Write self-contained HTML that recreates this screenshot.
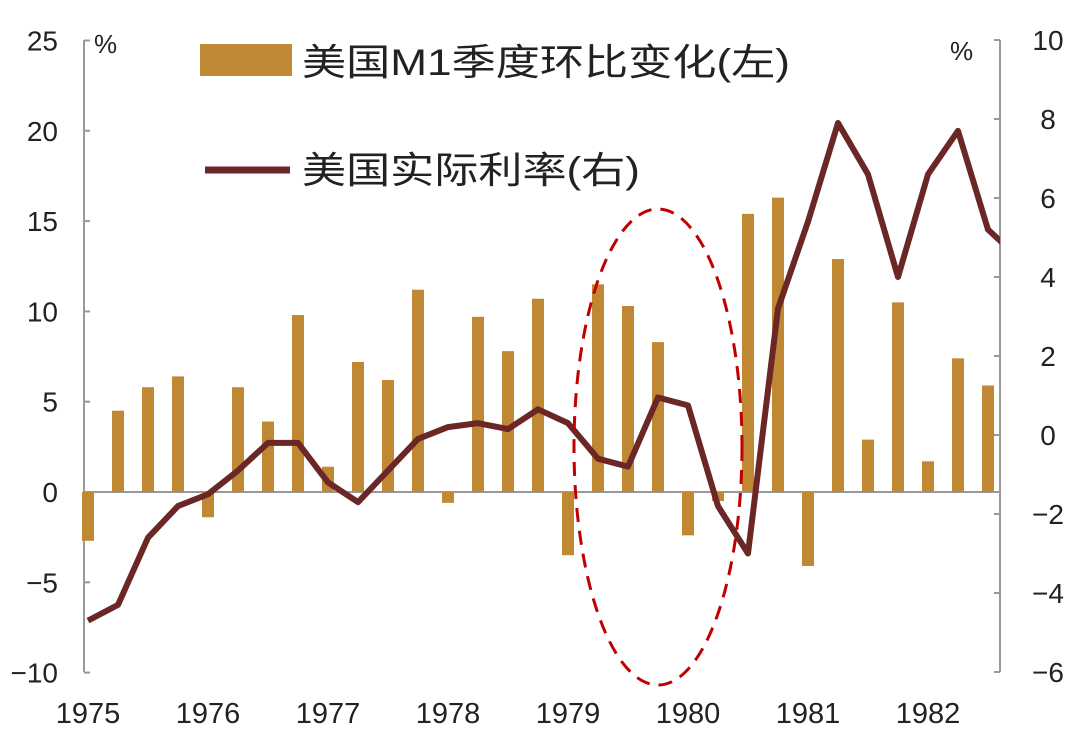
<!DOCTYPE html>
<html><head><meta charset="utf-8"><style>
body{margin:0;background:#fff;}
svg text{font-family:"Liberation Sans","Noto Sans CJK SC",sans-serif;fill:#222;}
</style></head><body>
<svg id="chart" width="1080" height="743" viewBox="0 0 1080 743" xmlns="http://www.w3.org/2000/svg">
<defs><clipPath id="plotclip"><rect x="84" y="0" width="916" height="743"/></clipPath></defs>
<g id="axes"></g><g id="bars"></g><g id="line" clip-path="url(#plotclip)"></g>
<ellipse cx="658" cy="447" rx="84" ry="238" fill="none" stroke="#c00000" stroke-width="3" stroke-dasharray="14,9"/>
<g>
<rect x="200" y="44" width="92" height="32" fill="#c08833"/>
<text x="302" y="75" font-size="37" textLength="488" lengthAdjust="spacingAndGlyphs">美国M1季度环比变化(左)</text>
<line x1="205" y1="170" x2="290" y2="170" stroke="#6b2626" stroke-width="7"/>
<text x="302" y="183" font-size="37" textLength="338" lengthAdjust="spacingAndGlyphs">美国实际利率(右)</text>
</g>
<text x="94" y="53" font-size="26">%</text>
<text x="950" y="60" font-size="26">%</text>
</svg>
<script>
const years=["1975","1976","1977","1978","1979","1980","1981","1982"];
const m1=[-2.7,4.5,5.8,6.4,-1.4,5.8,3.9,9.8,1.4,7.2,6.2,11.2,-0.6,9.7,7.8,10.7,-3.5,11.5,10.3,8.3,-2.4,-0.5,15.4,16.3,-4.1,12.9,2.9,10.5,1.7,7.4,5.9];
const rate=[-4.7,-4.3,-2.6,-1.8,-1.5,-0.9,-0.2,-0.2,-1.2,-1.7,-0.9,-0.1,0.2,0.3,0.15,0.65,0.3,-0.6,-0.8,0.95,0.75,-1.8,-3.0,3.2,5.4,7.9,6.6,4.0,6.6,7.7,5.2,4.5];
const leftTicks=[25,20,15,10,5,0,-5,-10];
const rightTicks=[10,8,6,4,2,0,-2,-4,-6];
const NS="http://www.w3.org/2000/svg";
const yL=v=>492-v*18.06;
const yR=v=>40+(10-v)*39.5;
const xQ=i=>88+i*30;
function mk(t,a,p){const e=document.createElementNS(NS,t);for(const k in a)e.setAttribute(k,a[k]);p.appendChild(e);return e;}
const ax=document.getElementById('axes');
let e=mk('line',{x1:84,y1:40,x2:84,y2:672,stroke:'#999','stroke-width':2},ax);


e=mk('line',{x1:1000,y1:40,x2:1000,y2:672,stroke:'#999','stroke-width':2},ax);


e=mk('line',{x1:84,y1:yL(0),x2:1000,y2:yL(0),stroke:'#999','stroke-width':2},ax);


leftTicks.forEach(v=>{
 mk('line',{x1:84,y1:yL(v),x2:90,y2:yL(v),stroke:'#999','stroke-width':2},ax);
 const t=mk('text',{x:58,y:yL(v)+10,'font-size':28,'text-anchor':'end'},ax);t.textContent=v<0?'−'+(-v):v;
 
 
});
rightTicks.forEach(v=>{
 mk('line',{x1:994,y1:yR(v),x2:1000,y2:yR(v),stroke:'#999','stroke-width':2},ax);
 const t=mk('text',{x:1048,y:yR(v)+10,'font-size':28,'text-anchor':'middle'},ax);t.textContent=v<0?'−'+(-v):v;
 
 
});
years.forEach((y,i)=>{
 const t=mk('text',{x:xQ(i*4),y:723,'font-size':29,'text-anchor':'middle'},ax);t.textContent=y;
 
 
});
const bg=document.getElementById('bars');
m1.forEach((v,i)=>{
 const y0=yL(0),y1=yL(v);
 const r=mk('rect',{x:xQ(i)-6,y:Math.min(y0,y1),width:12,height:Math.abs(y1-y0),fill:'#c08833'},bg);
 
 
});
const pts=rate.map((v,i)=>xQ(i)+','+yR(v)).join(' ');
const pl=mk('polyline',{points:pts,fill:'none',stroke:'#6b2626','stroke-width':6,'stroke-linejoin':'round'},document.getElementById('line'));


</script>
</body></html>
